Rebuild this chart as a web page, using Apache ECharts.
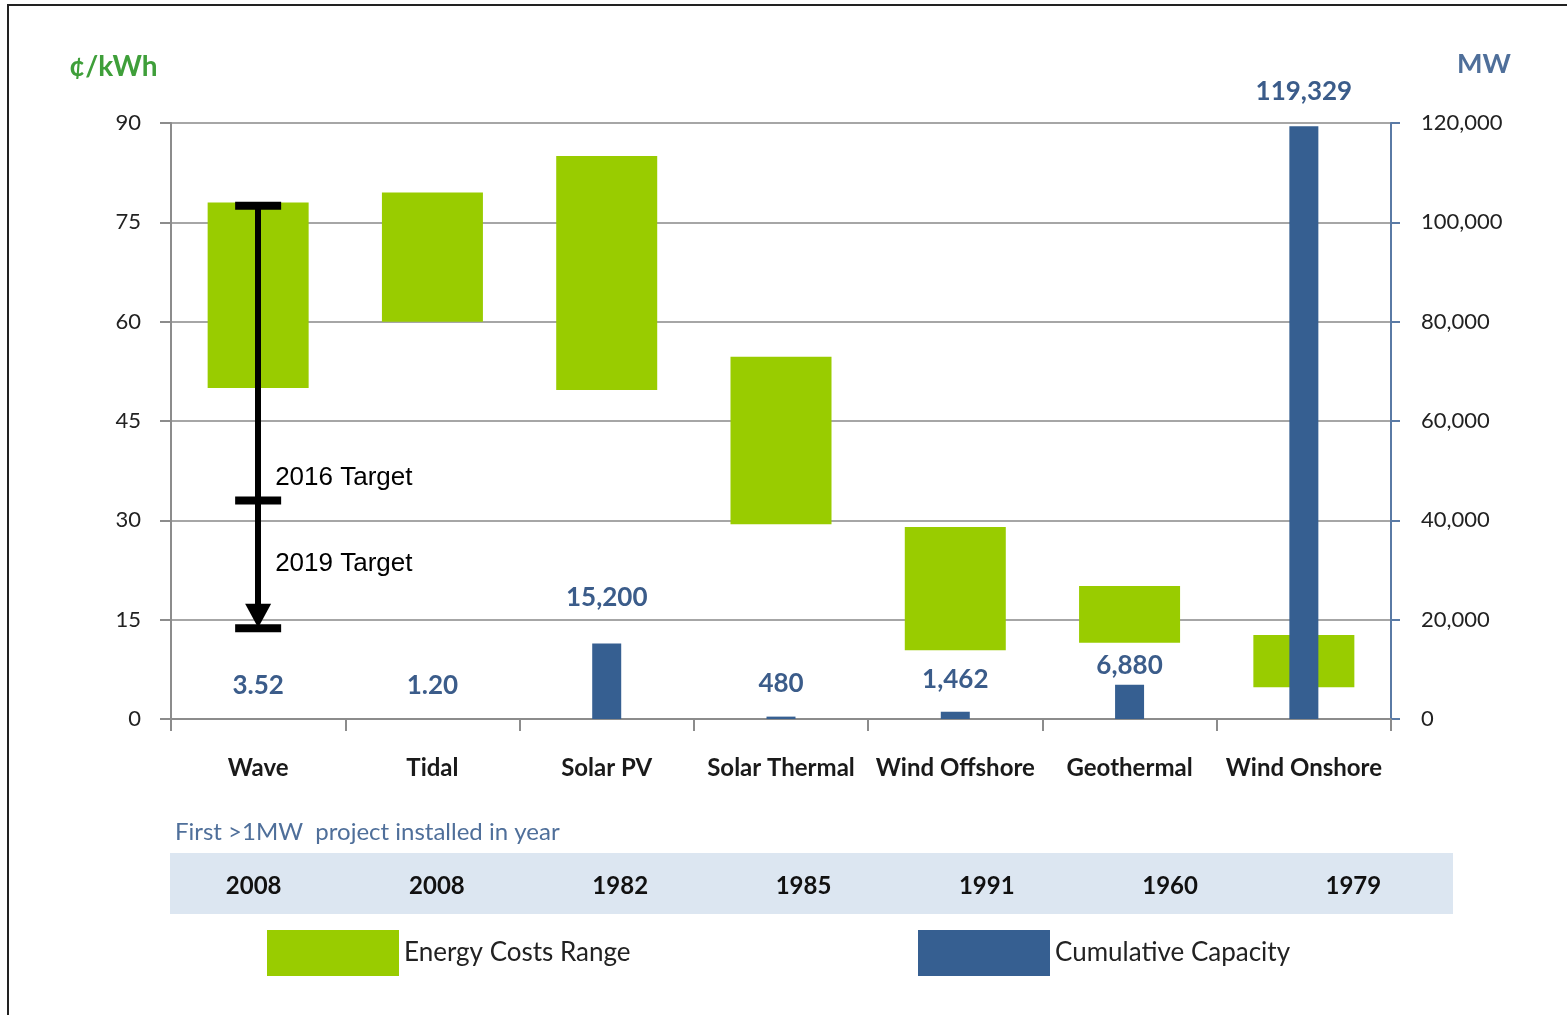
<!DOCTYPE html>
<html><head><meta charset="utf-8">
<script src="https://cdn.jsdelivr.net/npm/echarts@6/dist/echarts.min.js"></script>
<style>html,body{margin:0;padding:0;background:#fff}#c{width:1567px;height:1015px}</style>
</head><body><div id="c"></div>
<script>
var categories = ['Wave','Tidal','Solar PV','Solar Thermal','Wind Offshore','Geothermal','Wind Onshore'];
var costLow  = [50, 60, 49.7, 29.4, 10.4, 11.5, 4.8];
var costHigh = [78, 79.5, 85, 54.7, 29, 20.1, 12.7];
var capacity = [3.52, 1.20, 15200, 480, 1462, 6880, 119329];
var firstYear = ['2008','2008','1982','1985','1991','1960','1979'];
var costTicks = [0, 15, 30, 45, 60, 75, 90];
var mwTicks = [0, 20000, 40000, 60000, 80000, 100000, 120000];
var waveTargetStart = 77.5;
var waveTargetMarks = [77.5, 33, 13.7];
var waveTargetEnd = 15.6;
var targetNames = ['2016 Target', '2019 Target'];
var targetLabelAt = [36.4, 23.4];
var capLabelDistance = [20, 20, 33, 20, 19, 6, 22];

var FONT = 'Lato, "Noto Sans", sans-serif';
var BLUE = '#365f91';
var BLUE_TXT = '#3b5c8a';
var GREEN = '#99cc00';

function fmtCap(v){ return v < 100 ? v.toFixed(2) : v.toLocaleString('en-US'); }

var chart = echarts.init(document.getElementById('c'));
var diff = costHigh.map(function(h,i){ return +(h - costLow[i]).toFixed(2); });

chart.setOption({
  animation: false,
  backgroundColor: '#fff',
  title: [
    { text: '¢/kWh', left: 64, top: 48, textStyle: { fontFamily: FONT, fontSize: 28, fontWeight: 'bold', color: '#3f9f3a' } },
    { text: 'MW', left: 1452, top: 46, textStyle: { fontFamily: FONT, fontSize: 27, fontWeight: 'bold', color: '#4f6f9a' } },
    { text: 'First >1MW  project installed in year', left: 170, top: 815, textStyle: { fontFamily: FONT, fontSize: 24, fontWeight: 'normal', color: '#4f6f9a' } }
  ],
  graphic: [
    { type: 'rect', shape: { x: 8, y: 5, width: 1700, height: 1200 }, style: { fill: 'none', stroke: '#222', lineWidth: 2 }, silent: true }
  ],
  legend: [
    { data: ['Energy Costs Range'], left: 262, top: 925, itemWidth: 132, itemHeight: 46, icon: 'rect',
      textStyle: { fontFamily: FONT, fontSize: 26, color: '#222', padding: [6, 0, 0, 0] } },
    { data: ['Cumulative Capacity'], left: 913, top: 925, itemWidth: 132, itemHeight: 46, icon: 'rect',
      textStyle: { fontFamily: FONT, fontSize: 26, color: '#222', padding: [6, 0, 0, 0] } }
  ],
  grid: [
    { left: 171, right: 176, top: 123, height: 596 },
    { left: 170, right: 114, top: 853, height: 61, show: true, backgroundColor: '#dce6f1', borderWidth: 0 }
  ],
  xAxis: [
    { type: 'category', gridIndex: 0, data: categories,
      axisLine: { lineStyle: { color: '#8c8c8c', width: 2 } },
      axisTick: { show: true, length: 12, interval: 0, lineStyle: { color: '#8c8c8c', width: 2 } },
      axisLabel: { interval: 0, margin: 37, fontFamily: FONT, fontSize: 24, fontWeight: 'bold', color: '#1a1a1a' } },
    { type: 'category', gridIndex: 0, data: categories, show: false },
    { type: 'category', gridIndex: 1, data: firstYear, position: 'bottom',
      axisLine: { show: false }, axisTick: { show: false },
      axisLabel: { interval: 0, margin: -40, padding: [0, 16, 0, 0], fontFamily: FONT, fontSize: 24, fontWeight: 'bold', color: '#111' } }
  ],
  yAxis: [
    { type: 'value', gridIndex: 0, min: costTicks[0], max: costTicks[costTicks.length-1], interval: costTicks[1]-costTicks[0],
      axisLine: { show: true, lineStyle: { color: '#8c8c8c', width: 2 } },
      axisTick: { show: true, length: 11, lineStyle: { color: '#8c8c8c', width: 2 } },
      splitLine: { lineStyle: { color: '#a6a6a6', width: 2 } },
      axisLabel: { margin: 30, fontFamily: FONT, fontSize: 22, color: '#222' } },
    { type: 'value', gridIndex: 0, position: 'right', min: mwTicks[0], max: mwTicks[mwTicks.length-1], interval: mwTicks[1]-mwTicks[0],
      axisLine: { show: true, lineStyle: { color: '#5a7aa5', width: 2 } },
      axisTick: { show: true, length: 9, lineStyle: { color: '#5a7aa5', width: 2 } },
      splitLine: { show: false },
      axisLabel: { margin: 30, fontFamily: FONT, fontSize: 22, color: '#222', formatter: function(v){ return v.toLocaleString('en-US'); } } },
    { type: 'value', gridIndex: 1, show: false }
  ],
  series: [
    { type: 'bar', name: 'base', stack: 'cost', xAxisIndex: 0, yAxisIndex: 0, barWidth: 101, silent: true,
      itemStyle: { color: 'rgba(0,0,0,0)' }, data: costLow },
    { type: 'bar', name: 'Energy Costs Range', stack: 'cost', xAxisIndex: 0, yAxisIndex: 0, barWidth: 101,
      itemStyle: { color: GREEN }, data: diff },
    { type: 'bar', name: 'Cumulative Capacity', xAxisIndex: 1, yAxisIndex: 1, barWidth: 29,
      itemStyle: { color: BLUE },
      data: capacity.map(function(v,i){ return { value: v, label: { distance: capLabelDistance[i] } }; }),
      label: { show: true, position: 'top', fontFamily: FONT, fontSize: 26, fontWeight: 'bold', color: BLUE_TXT,
        formatter: function(p){ return fmtCap(p.value); } } },
    { type: 'scatter', name: 'targets', xAxisIndex: 0, yAxisIndex: 0, symbol: 'rect', symbolSize: [46, 8], silent: true,
      itemStyle: { color: '#000', opacity: 1 }, z: 5,
      data: waveTargetMarks.map(function(v){ return [categories[0], v]; }),
      markLine: { silent: true, symbol: ['none', 'triangle'], symbolSize: [26, 24],
        lineStyle: { color: '#000', width: 6, type: 'solid', opacity: 1 }, label: { show: false },
        data: [[ { coord: [categories[0], waveTargetStart] }, { coord: [categories[0], waveTargetEnd] } ]] } },
    { type: 'scatter', name: 'targetLabels', xAxisIndex: 0, yAxisIndex: 0, symbolSize: 0, silent: true,
      itemStyle: { opacity: 1 },
      data: targetLabelAt.map(function(v,i){ return { value: [categories[0], v], name: targetNames[i] }; }),
      label: { show: true, position: 'right', distance: 17, formatter: '{b}',
        fontFamily: '"Liberation Sans", Arial, sans-serif', fontSize: 26, color: '#000' } }
  ]
});
</script></body></html>
